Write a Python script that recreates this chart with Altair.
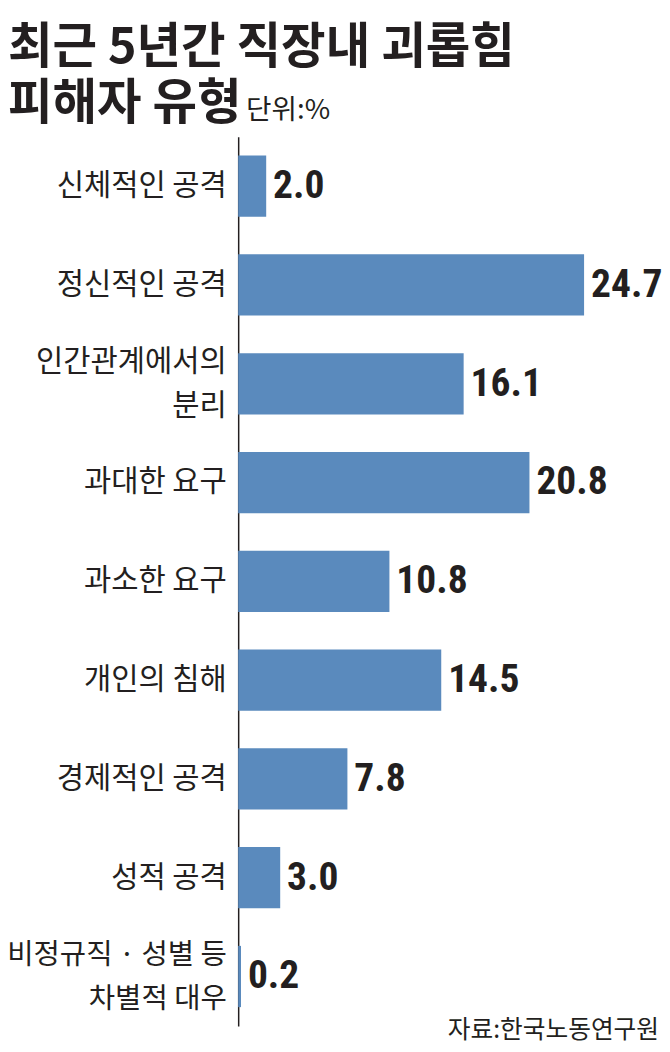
import altair as alt
import pandas as pd

categories = ["신체적인 공격", "정신적인 공격", "인간관계에서의\n분리", "과대한 요구", "과소한 요구",
              "개인의 침해", "경제적인 공격", "성적 공격", "비정규직 · 성별 등\n차별적 대우"]
values = [2.0, 24.7, 16.1, 20.8, 10.8, 14.5, 7.8, 3.0, 0.2]

title_line1 = "최근 5년간 직장내 괴롭힘"
title_line2 = "피해자 유형"
unit_text = "단위:%"
source_text = "자료:한국노동연구원"

df = pd.DataFrame({"cat": categories, "value": values})

KFONT = "Noto Sans CJK KR"
NUMFONT = "Liberation Sans Narrow, Roboto Condensed, Liberation Sans, sans-serif"
INK = "#231f20"

y_enc = alt.Y("cat:N", sort=categories, title=None,
              scale=alt.Scale(paddingInner=0.38, paddingOuter=0.19),
              axis=alt.Axis(domainColor=INK, domainWidth=1.5, ticks=False, grid=False,
                            labelFont=KFONT, labelColor=INK,
                            labelFontSize={"condition": {"test": "indexof(datum.value, '·') >= 0",
                                                         "value": 29},
                                           "value": 30},
                            labelPadding=12, labelLimit=0, labelLineHeight=45,
                            labelOffset={"condition": {"test": "indexof(datum.value, '\\n') >= 0",
                                                       "value": -22},
                                         "value": 0},
                            labelExpr="split(datum.label, '\\n')"))
x_enc = alt.X("value:Q", scale=alt.Scale(domain=[0, 29.7]), axis=None)

base = alt.Chart(df)
bars = base.mark_bar(color="#5a8abd").encode(y=y_enc, x=x_enc)
vals = base.mark_text(align="left", baseline="middle", dx=7, font=NUMFONT, fontSize=40,
                      fontWeight="bold", color=INK).encode(
    y=y_enc, x=x_enc, text=alt.Text("value:Q", format=".1f"))

def txt(s, x, y, size, weight="normal", align="left"):
    return alt.Chart(pd.DataFrame({"t": [s]})).mark_text(
        align=align, baseline="alphabetic", font=KFONT, fontSize=size,
        fontWeight=weight, color=INK).encode(x=alt.value(x), y=alt.value(y), text="t:N")

t1 = txt(title_line1, -233, -75, 49, "bold")
t2 = txt(title_line2, -233, -18, 49, "bold")
t3 = txt(unit_text, 8, -18, 28)
t4 = txt(source_text, 426, 912, 25, align="right")

chart = alt.layer(bars, vals, t1, t2, t3, t4).properties(
    width=421, height=900, autosize="none",
    padding={"left": 233, "top": 124, "right": 8, "bottom": 15},
    background="white",
).configure_view(stroke=None)

chart.save("out.html", embed_options={"renderer": "svg", "actions": False})
